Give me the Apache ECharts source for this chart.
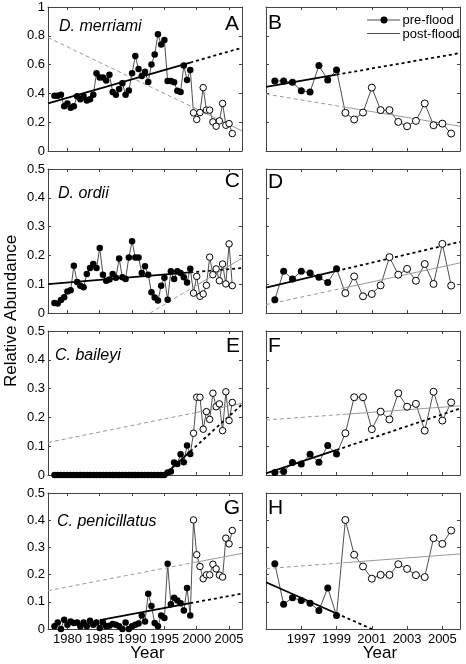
<!DOCTYPE html>
<html><head><meta charset="utf-8">
<script src="https://cdn.jsdelivr.net/npm/echarts@6/dist/echarts.min.js"></script>
<style>html,body{margin:0;padding:0;background:#fff}#c{width:466px;height:664px}</style>
</head><body><div id="c"></div>
<script>
// ---- data ----
const preYears = [1978,1978.5,1979,1979.5,1980,1980.5,1981,1981.5,1982,1982.5,1983,1983.5,1984,1984.5,1985,1985.5,1986,1986.5,1987,1987.5,1988,1988.5,1989,1989.5,1990,1990.5,1991,1991.5,1992,1992.5,1993,1993.5,1994,1994.5,1995,1995.5,1996,1996.5,1997,1997.5,1998,1998.5,1999];
const postYears = [1999.5,2000,2000.5,2001,2001.5,2002,2002.5,2003,2003.5,2004,2004.5,2005,2005.5];

const merriamiPre = [0.384,0.384,0.39,0.31,0.33,0.30,0.31,0.38,0.36,0.38,0.35,0.36,0.39,0.54,0.51,0.51,0.49,0.53,0.41,0.39,0.43,0.47,0.39,0.42,0.54,0.66,0.57,0.52,0.55,0.48,0.60,0.67,0.81,0.74,0.77,0.486,0.486,0.477,0.419,0.41,0.593,0.493,0.563];
const merriamiPost = [0.265,0.219,0.267,0.44,0.284,0.284,0.202,0.172,0.209,0.33,0.179,0.19,0.121];

const ordiiPre = [0.035,0.033,0.045,0.055,0.075,0.079,0.164,0.108,0.095,0.089,0.135,0.156,0.17,0.156,0.226,0.133,0.112,0.116,0.135,0.122,0.189,0.124,0.118,0.193,0.249,0.193,0.193,0.139,0.162,0.133,0.072,0.054,0.043,0.095,0.122,0.046,0.145,0.118,0.145,0.139,0.124,0.106,0.154];
const ordiiPost = [0.069,0.127,0.058,0.066,0.096,0.194,0.133,0.153,0.112,0.17,0.101,0.24,0.095];

const baileyiPre = [0,0,0,0,0,0,0,0,0,0,0,0,0,0,0,0,0,0,0,0,0,0,0,0,0,0,0,0,0,0,0,0,0,0,0,0.009,0.012,0.043,0.038,0.072,0.044,0.102,0.073];
const baileyiPost = [0.145,0.27,0.27,0.159,0.22,0.193,0.284,0.237,0.247,0.154,0.289,0.189,0.252];

const penicillatusPre = [0.01,0.024,0.0,0.034,0.016,0.028,0.022,0.024,0.01,0.024,0.01,0.03,0.016,0.024,0.004,0.024,0.01,0.012,0.018,0.016,0.01,0.0,0.024,0.0,0.01,0.016,0.02,0.05,0.028,0.13,0.085,0.022,0.01,0.05,0.04,0.24,0.091,0.115,0.105,0.095,0.068,0.151,0.05];
const penicillatusPost = [0.401,0.273,0.23,0.185,0.199,0.199,0.238,0.221,0.198,0.191,0.334,0.313,0.362];

// fitted lines: [start, break, end]
const merriamiFitPreL = [[1977,0.33],[1999,0.614],[2007,0.717]];
const merriamiFitPostL = [[1977,0.788],[1999.5,0.302],[2007,0.14]];
const merriamiFitPreR = [[1995,0.445],[1999,0.53],[2006,0.68]];
const merriamiFitPostR = [[1995,0.395],[1999.5,0.304],[2006,0.172]];
const ordiiFitPreL = [[1977,0.1],[1999,0.141],[2007,0.156]];
const ordiiFitPostL = [[1992.8,0],[1999.5,0.09],[2007,0.19]];
const ordiiFitPreR = [[1995,0.088],[1999,0.146],[2006,0.247]];
const ordiiFitPostR = [[1995,0.029],[1999.5,0.088],[2006,0.174]];
const baileyiFitPreL = [[1995,0.0],[1999,0.082],[2007,0.245]];
const baileyiFitPostL = [[1977,0.113],[1999.5,0.215],[2007,0.249]];
const baileyiFitPreR = [[1995,0.006],[1999,0.087],[2006,0.231]];
const baileyiFitPostR = [[1995,0.191],[1999.5,0.211],[2006,0.24]];
const penicillatusFitPreL = [[1985,0.033],[1999,0.095],[2007,0.13]];
const penicillatusFitPostL = [[1977,0.141],[1999.5,0.244],[2007,0.278]];
const penicillatusFitPreR = [[1995,0.172],[1999,0.057],[2001,0.0]];
const penicillatusFitPostR = [[1995,0.222],[1999.5,0.244],[2006,0.276]];

const leftTicks = [1980,1985,1990,1995,2000,2005];
const rightTicks = [1997,1999,2001,2003,2005];
const speciesNames = ['D. merriami','D. ordii','C. baileyi','C. penicillatus'];
const panelLetters = ['A','B','C','D','E','F','G','H'];

// ---- layout ----
const FONT = '"Liberation Sans", Arial, sans-serif';
const rows = [
  {top:7, height:144, yMax:1, yInt:0.2, pre:merriamiPre, post:merriamiPost, fits:[merriamiFitPreL,merriamiFitPostL,merriamiFitPreR,merriamiFitPostR]},
  {top:169, height:144, yMax:0.5, yInt:0.1, pre:ordiiPre, post:ordiiPost, fits:[ordiiFitPreL,ordiiFitPostL,ordiiFitPreR,ordiiFitPostR]},
  {top:331, height:144, yMax:0.5, yInt:0.1, pre:baileyiPre, post:baileyiPost, fits:[baileyiFitPreL,baileyiFitPostL,baileyiFitPreR,baileyiFitPostR]},
  {top:493, height:136, yMax:0.5, yInt:0.1, pre:penicillatusPre, post:penicillatusPost, fits:[penicillatusFitPreL,penicillatusFitPostL,penicillatusFitPreR,penicillatusFitPostR]}
];
const cols = [
  {left:48, width:194, xMin:1977, xMax:2007, ticks:leftTicks, startYear:1977, sym:6.5},
  {left:266, width:194, xMin:1995, xMax:2006, ticks:rightTicks, startYear:1995.5, sym:7}
];

const grid=[], xAxis=[], yAxis=[], series=[];
const axColor = '#444';
function pairs(xs, ys){ return xs.map((x,i)=>[x, ys[i]]); }

let gi = 0;
rows.forEach((r, ri) => {
  cols.forEach((c, ci) => {
    grid.push({left:c.left, top:r.top, width:c.width, height:r.height, show:false, containLabel:false});
    const bottomRow = ri === rows.length-1;
    const xBase = {type:'value', gridIndex:gi, min:c.xMin, max:c.xMax,
      axisLine:{show:true, onZero:false, lineStyle:{color:axColor, width:1}},
      axisTick:{show:true, inside:true, length:3, customValues:c.ticks, lineStyle:{color:axColor}},
      splitLine:{show:false}};
    xAxis.push(Object.assign({}, xBase, {position:'bottom',
      axisLabel:{show:bottomRow, customValues:c.ticks, color:'#000', fontSize:13, fontFamily:FONT, margin:4, formatter:v=>String(v)}}));
    xAxis.push(Object.assign({}, xBase, {position:'top', axisLabel:{show:false}}));
    const yBase = {type:'value', gridIndex:gi, min:0, max:r.yMax, interval:r.yInt,
      axisLine:{show:true, onZero:false, lineStyle:{color:axColor, width:1}},
      axisTick:{show:true, inside:true, length:3, lineStyle:{color:axColor}},
      splitLine:{show:false}};
    yAxis.push(Object.assign({}, yBase, {position:'left',
      axisLabel:{show:ci===0, color:'#000', fontSize:13, fontFamily:FONT, margin:3,
        formatter:v=>String(Math.round(v*10)/10)}}));
    yAxis.push(Object.assign({}, yBase, {position:'right', axisLabel:{show:false}}));

    const xi = gi*2, yi = gi*2;
    let pre = pairs(preYears, r.pre).filter(p=>p[0] >= c.startYear);
    let post = pairs(postYears, r.post);
    const all = pre.concat(post);
    const fitPre = r.fits[ci*2], fitPost = r.fits[ci*2+1];
    const base = {xAxisIndex:xi, yAxisIndex:yi, silent:true, animation:false};
    series.push(Object.assign({type:'line', data:all, symbol:'none', lineStyle:{color:'#222', width:0.8}, z:2}, base));
    series.push(Object.assign({type:'line', data:[fitPost[0],fitPost[1]], symbol:'none', lineStyle:{color:'#9a9a9a', width:1, type:[4,3]}, z:3}, base));
    series.push(Object.assign({type:'line', data:[fitPost[1],fitPost[2]], symbol:'none', lineStyle:{color:'#9a9a9a', width:1}, z:3}, base));
    series.push(Object.assign({type:'line', data:[fitPre[0],fitPre[1]], symbol:'none', lineStyle:{color:'#000', width:1.8}, z:4}, base));
    series.push(Object.assign({type:'line', data:[fitPre[1],fitPre[2]], symbol:'none', lineStyle:{color:'#000', width:1.8, type:[3,3]}, z:4}, base));
    series.push(Object.assign({type:'scatter', data:pre, symbol:'circle', symbolSize:c.sym, itemStyle:{color:'#000', opacity:1}, z:6}, base));
    series.push(Object.assign({type:'scatter', data:post, symbol:'circle', symbolSize:c.sym, itemStyle:{color:'#fff', borderColor:'#000', borderWidth:1, opacity:1}, z:6}, base));
    gi++;
  });
});

// ---- texts ----
const graphic = [];
function txt(t, x, y, size, opts){
  graphic.push(Object.assign({type:'text', x:x, y:y, silent:true, z:100,
    style:{text:t, font:(opts&&opts.italic?'italic ':'')+size+'px '+FONT, fill:'#000',
      align:(opts&&opts.align)||'left', verticalAlign:'middle',
      textAlign:(opts&&opts.align)||'left', textVerticalAlign:'middle'}}, (opts&&opts.extra)||{}));
}
const speciesPos = [[59,26.5],[58,193.5],[55,356],[57,522]];
speciesNames.forEach((s,i)=>txt(s, speciesPos[i][0], speciesPos[i][1], 16, {italic:true}));
const letterPos = [[239,24.5,'right'],[268,23,'left'],[240,181,'right'],[268,182,'left'],[240,346,'right'],[268,346,'left'],[240,508,'right'],[268,508,'left']];
panelLetters.forEach((l,i)=>txt(l, letterPos[i][0], letterPos[i][1], 21, {align:letterPos[i][2]}));
txt('Relative Abundance', 11, 311, 17, {align:'center', extra:{rotation:Math.PI/2}});
txt('Year', 147.5, 653, 17, {align:'center'});
txt('Year', 380, 653, 17, {align:'center'});
// legend in panel B
graphic.push({type:'line', silent:true, z:100, shape:{x1:367,y1:20,x2:400,y2:20}, style:{stroke:'#222', lineWidth:0.8}});
graphic.push({type:'circle', silent:true, z:101, shape:{cx:384,cy:20,r:3.5}, style:{fill:'#000'}});
graphic.push({type:'line', silent:true, z:100, shape:{x1:367,y1:33.5,x2:400,y2:33.5}, style:{stroke:'#222', lineWidth:0.8}});
txt('pre-flood', 402.5, 20.5, 13);
txt('post-flood', 402.5, 34.5, 13);

const chart = echarts.init(document.getElementById('c'), null, {renderer:'canvas'});
chart.setOption({animation:false, backgroundColor:'#fff', grid, xAxis, yAxis, series, graphic});
</script></body></html>
